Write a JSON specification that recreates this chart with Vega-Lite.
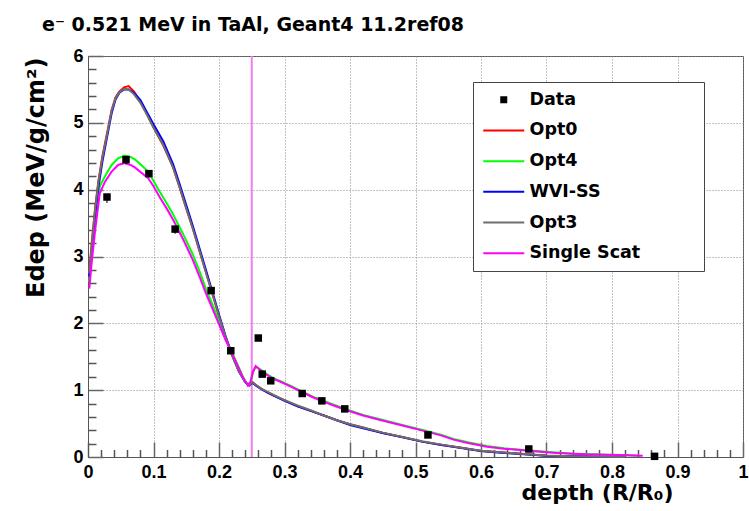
{
  "$schema": "https://vega.github.io/schema/vega-lite/v6.json",
  "width": 655,
  "height": 401,
  "autosize": {"type": "none"},
  "padding": {"left": 88, "top": 56, "right": 6, "bottom": 54},
  "background": "white",
  "config": {
    "font": "Liberation Sans",
    "view": {"stroke": "#555", "strokeWidth": 1}
  },
  "title": {
    "text": "e⁻ 0.521 MeV in TaAl, Geant4 11.2ref08",
    "anchor": "start",
    "frame": "group",
    "dx": -46,
    "offset": -3,
    "fontSize": 19,
    "fontWeight": "bold",
    "font": "DejaVu Sans",
    "color": "black",
    "baseline": "alphabetic"
  },
  "datasets": {
    "interface": [{"depth": 0.25}],
    "points": [
      {"depth": 0.029, "edep": 3.89, "lo": 3.80, "hi": 3.93},
      {"depth": 0.058, "edep": 4.45, "lo": 4.38, "hi": 4.49},
      {"depth": 0.093, "edep": 4.24, "lo": 4.18, "hi": 4.28},
      {"depth": 0.133, "edep": 3.41, "lo": 3.34, "hi": 3.45},
      {"depth": 0.188, "edep": 2.49, "lo": 2.44, "hi": 2.53},
      {"depth": 0.218, "edep": 1.59, "lo": 1.55, "hi": 1.63},
      {"depth": 0.260, "edep": 1.78, "lo": 1.74, "hi": 1.82},
      {"depth": 0.266, "edep": 1.24, "lo": 1.21, "hi": 1.27},
      {"depth": 0.279, "edep": 1.14, "lo": 1.11, "hi": 1.17},
      {"depth": 0.327, "edep": 0.95, "lo": 0.92, "hi": 0.98},
      {"depth": 0.357, "edep": 0.84, "lo": 0.81, "hi": 0.87},
      {"depth": 0.392, "edep": 0.72, "lo": 0.69, "hi": 0.75},
      {"depth": 0.519, "edep": 0.33, "lo": 0.31, "hi": 0.35},
      {"depth": 0.673, "edep": 0.12, "lo": 0.10, "hi": 0.14},
      {"depth": 0.865, "edep": 0.01, "lo": 0.0, "hi": 0.02}
    ],
    "curves": [
      {"model": "Opt0", "depth": 0.002, "edep": 2.78},
      {"model": "Opt0", "depth": 0.006, "edep": 3.24},
      {"model": "Opt0", "depth": 0.011, "edep": 3.74},
      {"model": "Opt0", "depth": 0.016, "edep": 4.14},
      {"model": "Opt0", "depth": 0.022, "edep": 4.50},
      {"model": "Opt0", "depth": 0.029, "edep": 4.84},
      {"model": "Opt0", "depth": 0.036, "edep": 5.19},
      {"model": "Opt0", "depth": 0.042, "edep": 5.38},
      {"model": "Opt0", "depth": 0.048, "edep": 5.47},
      {"model": "Opt0", "depth": 0.055, "edep": 5.53},
      {"model": "Opt0", "depth": 0.062, "edep": 5.55},
      {"model": "Opt0", "depth": 0.070, "edep": 5.47},
      {"model": "Opt0", "depth": 0.080, "edep": 5.32},
      {"model": "Opt0", "depth": 0.090, "edep": 5.13},
      {"model": "Opt0", "depth": 0.100, "edep": 4.93},
      {"model": "Opt0", "depth": 0.115, "edep": 4.66},
      {"model": "Opt0", "depth": 0.130, "edep": 4.33},
      {"model": "Opt0", "depth": 0.140, "edep": 4.03},
      {"model": "Opt0", "depth": 0.150, "edep": 3.72},
      {"model": "Opt0", "depth": 0.160, "edep": 3.42},
      {"model": "Opt0", "depth": 0.170, "edep": 3.09},
      {"model": "Opt0", "depth": 0.180, "edep": 2.77},
      {"model": "Opt0", "depth": 0.190, "edep": 2.44},
      {"model": "Opt0", "depth": 0.200, "edep": 2.11},
      {"model": "Opt0", "depth": 0.210, "edep": 1.80},
      {"model": "Opt0", "depth": 0.220, "edep": 1.52},
      {"model": "Opt0", "depth": 0.230, "edep": 1.29},
      {"model": "Opt0", "depth": 0.240, "edep": 1.12},
      {"model": "Opt0", "depth": 0.246, "edep": 1.07},
      {"model": "Opt0", "depth": 0.251, "edep": 1.12},
      {"model": "Opt0", "depth": 0.256, "edep": 1.08},
      {"model": "Opt0", "depth": 0.265, "edep": 1.02},
      {"model": "Opt0", "depth": 0.275, "edep": 0.96},
      {"model": "Opt0", "depth": 0.285, "edep": 0.91},
      {"model": "Opt0", "depth": 0.300, "edep": 0.85},
      {"model": "Opt0", "depth": 0.320, "edep": 0.76},
      {"model": "Opt0", "depth": 0.340, "edep": 0.69},
      {"model": "Opt0", "depth": 0.360, "edep": 0.62},
      {"model": "Opt0", "depth": 0.380, "edep": 0.55},
      {"model": "Opt0", "depth": 0.400, "edep": 0.49},
      {"model": "Opt0", "depth": 0.420, "edep": 0.44},
      {"model": "Opt0", "depth": 0.450, "edep": 0.36},
      {"model": "Opt0", "depth": 0.480, "edep": 0.30},
      {"model": "Opt0", "depth": 0.510, "edep": 0.23},
      {"model": "Opt0", "depth": 0.540, "edep": 0.18},
      {"model": "Opt0", "depth": 0.570, "edep": 0.14},
      {"model": "Opt0", "depth": 0.600, "edep": 0.09},
      {"model": "Opt0", "depth": 0.630, "edep": 0.07},
      {"model": "Opt0", "depth": 0.660, "edep": 0.05},
      {"model": "Opt0", "depth": 0.700, "edep": 0.02},
      {"model": "Opt0", "depth": 0.740, "edep": 0.01},
      {"model": "Opt0", "depth": 0.780, "edep": 0.004},
      {"model": "Opt0", "depth": 0.820, "edep": 0.0},

      {"model": "Opt4", "depth": 0.002, "edep": 2.62},
      {"model": "Opt4", "depth": 0.006, "edep": 3.05},
      {"model": "Opt4", "depth": 0.011, "edep": 3.50},
      {"model": "Opt4", "depth": 0.018, "edep": 4.05},
      {"model": "Opt4", "depth": 0.026, "edep": 4.20},
      {"model": "Opt4", "depth": 0.036, "edep": 4.37},
      {"model": "Opt4", "depth": 0.046, "edep": 4.47},
      {"model": "Opt4", "depth": 0.056, "edep": 4.51},
      {"model": "Opt4", "depth": 0.065, "edep": 4.49},
      {"model": "Opt4", "depth": 0.072, "edep": 4.45},
      {"model": "Opt4", "depth": 0.082, "edep": 4.36},
      {"model": "Opt4", "depth": 0.092, "edep": 4.27},
      {"model": "Opt4", "depth": 0.100, "edep": 4.13},
      {"model": "Opt4", "depth": 0.110, "edep": 3.96},
      {"model": "Opt4", "depth": 0.120, "edep": 3.80},
      {"model": "Opt4", "depth": 0.130, "edep": 3.63},
      {"model": "Opt4", "depth": 0.1455, "edep": 3.33},
      {"model": "Opt4", "depth": 0.160, "edep": 3.03},
      {"model": "Opt4", "depth": 0.171, "edep": 2.76},
      {"model": "Opt4", "depth": 0.180, "edep": 2.52},
      {"model": "Opt4", "depth": 0.190, "edep": 2.28},
      {"model": "Opt4", "depth": 0.2015, "edep": 2.00},
      {"model": "Opt4", "depth": 0.210, "edep": 1.77},
      {"model": "Opt4", "depth": 0.220, "edep": 1.56},
      {"model": "Opt4", "depth": 0.227, "edep": 1.41},
      {"model": "Opt4", "depth": 0.237, "edep": 1.19},
      {"model": "Opt4", "depth": 0.244, "edep": 1.08},
      {"model": "Opt4", "depth": 0.248, "edep": 1.12},
      {"model": "Opt4", "depth": 0.252, "edep": 1.27},
      {"model": "Opt4", "depth": 0.256, "edep": 1.35},
      {"model": "Opt4", "depth": 0.263, "edep": 1.31},
      {"model": "Opt4", "depth": 0.273, "edep": 1.24},
      {"model": "Opt4", "depth": 0.283, "edep": 1.18},
      {"model": "Opt4", "depth": 0.293, "edep": 1.14},
      {"model": "Opt4", "depth": 0.308, "edep": 1.07},
      {"model": "Opt4", "depth": 0.325, "edep": 0.99},
      {"model": "Opt4", "depth": 0.344, "edep": 0.90},
      {"model": "Opt4", "depth": 0.370, "edep": 0.80},
      {"model": "Opt4", "depth": 0.395, "edep": 0.71},
      {"model": "Opt4", "depth": 0.420, "edep": 0.63},
      {"model": "Opt4", "depth": 0.446, "edep": 0.565},
      {"model": "Opt4", "depth": 0.480, "edep": 0.48},
      {"model": "Opt4", "depth": 0.517, "edep": 0.39},
      {"model": "Opt4", "depth": 0.540, "edep": 0.33},
      {"model": "Opt4", "depth": 0.558, "edep": 0.27},
      {"model": "Opt4", "depth": 0.580, "edep": 0.22},
      {"model": "Opt4", "depth": 0.609, "edep": 0.165},
      {"model": "Opt4", "depth": 0.635, "edep": 0.13},
      {"model": "Opt4", "depth": 0.660, "edep": 0.11},
      {"model": "Opt4", "depth": 0.690, "edep": 0.085},
      {"model": "Opt4", "depth": 0.710, "edep": 0.07},
      {"model": "Opt4", "depth": 0.740, "edep": 0.05},
      {"model": "Opt4", "depth": 0.761, "edep": 0.045},
      {"model": "Opt4", "depth": 0.790, "edep": 0.035},
      {"model": "Opt4", "depth": 0.812, "edep": 0.03},
      {"model": "Opt4", "depth": 0.840, "edep": 0.02},

      {"model": "WVI-SS", "depth": 0.002, "edep": 2.70},
      {"model": "WVI-SS", "depth": 0.006, "edep": 3.12},
      {"model": "WVI-SS", "depth": 0.011, "edep": 3.62},
      {"model": "WVI-SS", "depth": 0.016, "edep": 4.04},
      {"model": "WVI-SS", "depth": 0.022, "edep": 4.42},
      {"model": "WVI-SS", "depth": 0.029, "edep": 4.78},
      {"model": "WVI-SS", "depth": 0.036, "edep": 5.14},
      {"model": "WVI-SS", "depth": 0.042, "edep": 5.35},
      {"model": "WVI-SS", "depth": 0.048, "edep": 5.45},
      {"model": "WVI-SS", "depth": 0.055, "edep": 5.50},
      {"model": "WVI-SS", "depth": 0.062, "edep": 5.50},
      {"model": "WVI-SS", "depth": 0.070, "edep": 5.45},
      {"model": "WVI-SS", "depth": 0.080, "edep": 5.34},
      {"model": "WVI-SS", "depth": 0.090, "edep": 5.16},
      {"model": "WVI-SS", "depth": 0.100, "edep": 4.98},
      {"model": "WVI-SS", "depth": 0.115, "edep": 4.72},
      {"model": "WVI-SS", "depth": 0.130, "edep": 4.38},
      {"model": "WVI-SS", "depth": 0.140, "edep": 4.08},
      {"model": "WVI-SS", "depth": 0.150, "edep": 3.77},
      {"model": "WVI-SS", "depth": 0.160, "edep": 3.46},
      {"model": "WVI-SS", "depth": 0.170, "edep": 3.13},
      {"model": "WVI-SS", "depth": 0.180, "edep": 2.80},
      {"model": "WVI-SS", "depth": 0.190, "edep": 2.47},
      {"model": "WVI-SS", "depth": 0.200, "edep": 2.13},
      {"model": "WVI-SS", "depth": 0.210, "edep": 1.81},
      {"model": "WVI-SS", "depth": 0.220, "edep": 1.53},
      {"model": "WVI-SS", "depth": 0.230, "edep": 1.29},
      {"model": "WVI-SS", "depth": 0.240, "edep": 1.12},
      {"model": "WVI-SS", "depth": 0.246, "edep": 1.07},
      {"model": "WVI-SS", "depth": 0.251, "edep": 1.11},
      {"model": "WVI-SS", "depth": 0.256, "edep": 1.07},
      {"model": "WVI-SS", "depth": 0.265, "edep": 1.01},
      {"model": "WVI-SS", "depth": 0.275, "edep": 0.96},
      {"model": "WVI-SS", "depth": 0.285, "edep": 0.91},
      {"model": "WVI-SS", "depth": 0.300, "edep": 0.84},
      {"model": "WVI-SS", "depth": 0.320, "edep": 0.76},
      {"model": "WVI-SS", "depth": 0.340, "edep": 0.69},
      {"model": "WVI-SS", "depth": 0.360, "edep": 0.62},
      {"model": "WVI-SS", "depth": 0.380, "edep": 0.55},
      {"model": "WVI-SS", "depth": 0.400, "edep": 0.48},
      {"model": "WVI-SS", "depth": 0.420, "edep": 0.43},
      {"model": "WVI-SS", "depth": 0.450, "edep": 0.36},
      {"model": "WVI-SS", "depth": 0.480, "edep": 0.295},
      {"model": "WVI-SS", "depth": 0.510, "edep": 0.23},
      {"model": "WVI-SS", "depth": 0.540, "edep": 0.18},
      {"model": "WVI-SS", "depth": 0.570, "edep": 0.135},
      {"model": "WVI-SS", "depth": 0.600, "edep": 0.09},
      {"model": "WVI-SS", "depth": 0.630, "edep": 0.065},
      {"model": "WVI-SS", "depth": 0.660, "edep": 0.045},
      {"model": "WVI-SS", "depth": 0.700, "edep": 0.02},
      {"model": "WVI-SS", "depth": 0.740, "edep": 0.01},
      {"model": "WVI-SS", "depth": 0.780, "edep": 0.004},
      {"model": "WVI-SS", "depth": 0.820, "edep": 0.0},

      {"model": "Opt3", "depth": 0.002, "edep": 2.75},
      {"model": "Opt3", "depth": 0.006, "edep": 3.20},
      {"model": "Opt3", "depth": 0.011, "edep": 3.72},
      {"model": "Opt3", "depth": 0.016, "edep": 4.12},
      {"model": "Opt3", "depth": 0.022, "edep": 4.48},
      {"model": "Opt3", "depth": 0.029, "edep": 4.82},
      {"model": "Opt3", "depth": 0.036, "edep": 5.18},
      {"model": "Opt3", "depth": 0.042, "edep": 5.37},
      {"model": "Opt3", "depth": 0.048, "edep": 5.46},
      {"model": "Opt3", "depth": 0.055, "edep": 5.51},
      {"model": "Opt3", "depth": 0.062, "edep": 5.50},
      {"model": "Opt3", "depth": 0.070, "edep": 5.43},
      {"model": "Opt3", "depth": 0.080, "edep": 5.30},
      {"model": "Opt3", "depth": 0.090, "edep": 5.12},
      {"model": "Opt3", "depth": 0.100, "edep": 4.93},
      {"model": "Opt3", "depth": 0.115, "edep": 4.67},
      {"model": "Opt3", "depth": 0.130, "edep": 4.33},
      {"model": "Opt3", "depth": 0.140, "edep": 4.03},
      {"model": "Opt3", "depth": 0.150, "edep": 3.72},
      {"model": "Opt3", "depth": 0.160, "edep": 3.42},
      {"model": "Opt3", "depth": 0.170, "edep": 3.09},
      {"model": "Opt3", "depth": 0.180, "edep": 2.76},
      {"model": "Opt3", "depth": 0.190, "edep": 2.44},
      {"model": "Opt3", "depth": 0.200, "edep": 2.11},
      {"model": "Opt3", "depth": 0.210, "edep": 1.80},
      {"model": "Opt3", "depth": 0.220, "edep": 1.52},
      {"model": "Opt3", "depth": 0.230, "edep": 1.29},
      {"model": "Opt3", "depth": 0.240, "edep": 1.12},
      {"model": "Opt3", "depth": 0.246, "edep": 1.07},
      {"model": "Opt3", "depth": 0.251, "edep": 1.12},
      {"model": "Opt3", "depth": 0.256, "edep": 1.08},
      {"model": "Opt3", "depth": 0.265, "edep": 1.02},
      {"model": "Opt3", "depth": 0.275, "edep": 0.97},
      {"model": "Opt3", "depth": 0.285, "edep": 0.92},
      {"model": "Opt3", "depth": 0.300, "edep": 0.85},
      {"model": "Opt3", "depth": 0.320, "edep": 0.77},
      {"model": "Opt3", "depth": 0.340, "edep": 0.70},
      {"model": "Opt3", "depth": 0.360, "edep": 0.62},
      {"model": "Opt3", "depth": 0.380, "edep": 0.55},
      {"model": "Opt3", "depth": 0.400, "edep": 0.49},
      {"model": "Opt3", "depth": 0.420, "edep": 0.44},
      {"model": "Opt3", "depth": 0.450, "edep": 0.365},
      {"model": "Opt3", "depth": 0.480, "edep": 0.30},
      {"model": "Opt3", "depth": 0.510, "edep": 0.235},
      {"model": "Opt3", "depth": 0.540, "edep": 0.185},
      {"model": "Opt3", "depth": 0.570, "edep": 0.14},
      {"model": "Opt3", "depth": 0.600, "edep": 0.095},
      {"model": "Opt3", "depth": 0.630, "edep": 0.07},
      {"model": "Opt3", "depth": 0.660, "edep": 0.05},
      {"model": "Opt3", "depth": 0.700, "edep": 0.022},
      {"model": "Opt3", "depth": 0.740, "edep": 0.01},
      {"model": "Opt3", "depth": 0.780, "edep": 0.004},
      {"model": "Opt3", "depth": 0.820, "edep": 0.0},

      {"model": "Single Scat", "depth": 0.002, "edep": 2.52},
      {"model": "Single Scat", "depth": 0.006, "edep": 2.95},
      {"model": "Single Scat", "depth": 0.011, "edep": 3.40},
      {"model": "Single Scat", "depth": 0.018, "edep": 3.95},
      {"model": "Single Scat", "depth": 0.026, "edep": 4.12},
      {"model": "Single Scat", "depth": 0.036, "edep": 4.27},
      {"model": "Single Scat", "depth": 0.046, "edep": 4.37},
      {"model": "Single Scat", "depth": 0.056, "edep": 4.40},
      {"model": "Single Scat", "depth": 0.065, "edep": 4.37},
      {"model": "Single Scat", "depth": 0.072, "edep": 4.33},
      {"model": "Single Scat", "depth": 0.082, "edep": 4.25},
      {"model": "Single Scat", "depth": 0.092, "edep": 4.17},
      {"model": "Single Scat", "depth": 0.100, "edep": 4.05},
      {"model": "Single Scat", "depth": 0.110, "edep": 3.88},
      {"model": "Single Scat", "depth": 0.120, "edep": 3.72},
      {"model": "Single Scat", "depth": 0.130, "edep": 3.55},
      {"model": "Single Scat", "depth": 0.1455, "edep": 3.25},
      {"model": "Single Scat", "depth": 0.160, "edep": 2.95},
      {"model": "Single Scat", "depth": 0.171, "edep": 2.68},
      {"model": "Single Scat", "depth": 0.180, "edep": 2.45},
      {"model": "Single Scat", "depth": 0.190, "edep": 2.22},
      {"model": "Single Scat", "depth": 0.2015, "edep": 1.95},
      {"model": "Single Scat", "depth": 0.210, "edep": 1.75},
      {"model": "Single Scat", "depth": 0.220, "edep": 1.55},
      {"model": "Single Scat", "depth": 0.227, "edep": 1.40},
      {"model": "Single Scat", "depth": 0.237, "edep": 1.18},
      {"model": "Single Scat", "depth": 0.244, "edep": 1.07},
      {"model": "Single Scat", "depth": 0.248, "edep": 1.12},
      {"model": "Single Scat", "depth": 0.252, "edep": 1.28},
      {"model": "Single Scat", "depth": 0.256, "edep": 1.36},
      {"model": "Single Scat", "depth": 0.263, "edep": 1.30},
      {"model": "Single Scat", "depth": 0.273, "edep": 1.23},
      {"model": "Single Scat", "depth": 0.283, "edep": 1.17},
      {"model": "Single Scat", "depth": 0.293, "edep": 1.13},
      {"model": "Single Scat", "depth": 0.308, "edep": 1.06},
      {"model": "Single Scat", "depth": 0.325, "edep": 0.98},
      {"model": "Single Scat", "depth": 0.344, "edep": 0.89},
      {"model": "Single Scat", "depth": 0.370, "edep": 0.79},
      {"model": "Single Scat", "depth": 0.395, "edep": 0.70},
      {"model": "Single Scat", "depth": 0.420, "edep": 0.62},
      {"model": "Single Scat", "depth": 0.446, "edep": 0.555},
      {"model": "Single Scat", "depth": 0.480, "edep": 0.47},
      {"model": "Single Scat", "depth": 0.517, "edep": 0.38},
      {"model": "Single Scat", "depth": 0.540, "edep": 0.32},
      {"model": "Single Scat", "depth": 0.558, "edep": 0.26},
      {"model": "Single Scat", "depth": 0.580, "edep": 0.21},
      {"model": "Single Scat", "depth": 0.609, "edep": 0.155},
      {"model": "Single Scat", "depth": 0.635, "edep": 0.125},
      {"model": "Single Scat", "depth": 0.660, "edep": 0.105},
      {"model": "Single Scat", "depth": 0.690, "edep": 0.08},
      {"model": "Single Scat", "depth": 0.710, "edep": 0.065},
      {"model": "Single Scat", "depth": 0.740, "edep": 0.05},
      {"model": "Single Scat", "depth": 0.761, "edep": 0.04},
      {"model": "Single Scat", "depth": 0.790, "edep": 0.035},
      {"model": "Single Scat", "depth": 0.812, "edep": 0.03},
      {"model": "Single Scat", "depth": 0.847, "edep": 0.02}
    ]
  },
  "layer": [
    {
      "data": {"name": "interface"},
      "mark": {"type": "rule", "color": "#f07cf0", "strokeWidth": 2},
      "encoding": {
        "x": {"field": "depth", "type": "quantitative", "axis": null}
      }
    },
    {
      "data": {"name": "curves"},
      "mark": {"type": "line", "strokeWidth": 2, "interpolate": "linear"},
      "encoding": {
        "x": {
          "field": "depth", "type": "quantitative",
          "scale": {"domain": [0, 1], "nice": false, "zero": false},
          "axis": {
            "orient": "bottom",
            "values": [0, 0.1, 0.2, 0.3, 0.4, 0.5, 0.6, 0.7, 0.8, 0.9, 1],
            "format": "~g",
            "tickSize": -15, "tickColor": "#666", "tickWidth": 1.5,
            "domainColor": "#555", "domainWidth": 1,
            "grid": true, "gridDash": [1, 2], "gridColor": "#888", "gridWidth": 1,
            "labelFont": "Liberation Sans", "labelFontSize": 18, "labelFontWeight": "bold", "labelColor": "black",
            "labelPadding": 21, "labelFlush": false, "labelOverlap": false,
            "title": "depth (R/R₀)",
            "titleFont": "DejaVu Sans", "titleFontSize": 22, "titleFontWeight": "bold", "titleColor": "black",
            "titleAnchor": "end", "titleAlign": "right", "titleBaseline": "alphabetic",
            "titleX": 585, "titleY": 42
          }
        },
        "y": {
          "field": "edep", "type": "quantitative",
          "scale": {"domain": [0, 6], "nice": false, "zero": true},
          "axis": {
            "orient": "left",
            "values": [0, 1, 2, 3, 4, 5, 6],
            "format": "d",
            "tickSize": -15, "tickColor": "#666", "tickWidth": 1.5,
            "domainColor": "#555", "domainWidth": 1,
            "grid": true, "gridDash": [1, 2], "gridColor": "#888", "gridWidth": 1,
            "labelFont": "Liberation Sans", "labelFontSize": 18, "labelFontWeight": "bold", "labelColor": "black",
            "labelPadding": 20, "labelOverlap": false, "labelFlush": false,
            "title": "Edep (MeV/g/cm²)",
            "titleFont": "DejaVu Sans", "titleFontSize": 24, "titleFontWeight": "bold", "titleColor": "black",
            "titleAnchor": "end", "titleAlign": "right", "titleBaseline": "alphabetic", "titleAngle": -90,
            "titleX": -45, "titleY": 1
          }
        },
        "color": {
          "field": "model", "type": "nominal",
          "scale": {
            "domain": ["Data", "Opt0", "Opt4", "WVI-SS", "Opt3", "Single Scat"],
            "range": ["#000000", "#ff0000", "#00ff00", "#0000ff", "#6e6e6e", "#ff00ff"]
          },
          "legend": {
            "title": null,
            "orient": "none",
            "legendX": 385,
            "legendY": 26,
            "direction": "vertical",
            "fillColor": "white",
            "strokeColor": "#444",
            "padding": 9,
            "symbolType": "stroke",
            "symbolSize": 1681,
            "symbolStrokeWidth": 2,
            "symbolOffset": 13,
            "labelFont": "DejaVu Sans",
            "labelFontSize": 17.5,
            "labelFontWeight": "bold",
            "labelColor": "black",
            "labelOffset": 17,
            "labelLimit": 300,
            "rowPadding": 11.7,
            "labelExpr": "datum.label == 'Single Scat' ? 'Single Scat\u2800\u2800\u2800\u2800' : datum.label",
            "encode": {
              "symbols": {
                "update": {
                  "shape": {"signal": "datum.value === 'Data' ? 'square' : 'stroke'"},
                  "size": {"signal": "datum.value === 'Data' ? 49 : 1681"},
                  "fill": {"signal": "datum.value === 'Data' ? 'black' : 'transparent'"},
                  "stroke": {"signal": "datum.value === 'Data' ? 'black' : scale('color', datum.value)"},
                  "strokeWidth": {"signal": "datum.value === 'Data' ? 0 : 2"},
                  "opacity": {"value": 1}
                }
              }
            }
          }
        }
      }
    },
    {
      "data": {"name": "points"},
      "mark": {"type": "rule", "color": "black", "strokeWidth": 1},
      "encoding": {
        "x": {
          "field": "depth", "type": "quantitative",
          "axis": {
            "orient": "bottom",
            "values": [0.02, 0.04, 0.06, 0.08, 0.12, 0.14, 0.16, 0.18, 0.22, 0.24, 0.26, 0.28, 0.32, 0.34, 0.36, 0.38, 0.42, 0.44, 0.46, 0.48, 0.52, 0.54, 0.56, 0.58, 0.62, 0.64, 0.66, 0.68, 0.72, 0.74, 0.76, 0.78, 0.82, 0.84, 0.86, 0.88, 0.92, 0.94, 0.96, 0.98],
            "labels": false, "domain": false, "grid": false,
            "tickSize": -7.5, "tickColor": "#555", "tickWidth": 1.5,
            "title": null
          }
        },
        "y": {
          "field": "lo", "type": "quantitative",
          "axis": {
            "orient": "left",
            "values": [0.2, 0.4, 0.6, 0.8, 1.2, 1.4, 1.6, 1.8, 2.2, 2.4, 2.6, 2.8, 3.2, 3.4, 3.6, 3.8, 4.2, 4.4, 4.6, 4.8, 5.2, 5.4, 5.6, 5.8],
            "labels": false, "domain": false, "grid": false,
            "tickSize": -8, "tickColor": "#555", "tickWidth": 1.5,
            "title": null
          }
        },
        "y2": {"field": "hi"}
      }
    },
    {
      "data": {"name": "points"},
      "mark": {"type": "square", "size": 56, "filled": true, "opacity": 1},
      "encoding": {
        "x": {"field": "depth", "type": "quantitative", "axis": null},
        "y": {"field": "edep", "type": "quantitative", "axis": null},
        "color": {"datum": "Data"}
      }
    }
  ],
  "resolve": {"axis": {"x": "independent", "y": "independent"}}
}
